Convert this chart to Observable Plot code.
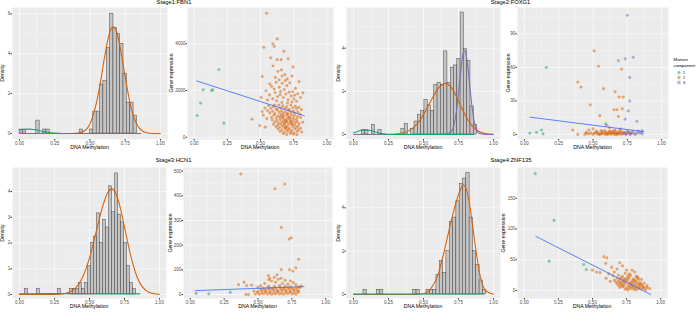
<!DOCTYPE html>
<html><head><meta charset="utf-8">
<script src="https://cdn.jsdelivr.net/npm/d3@7"></script>
<script src="https://cdn.jsdelivr.net/npm/@observablehq/plot@0.6"></script>
<style>
body{margin:0;background:#fff}
#root{position:relative;width:700px;height:313px;font-family:"Liberation Sans",Arial,sans-serif;overflow:hidden;background:#fff}
.t{position:absolute;white-space:nowrap;line-height:1;color:#000}
</style>
</head><body><div id="root"></div>
<script>
// ---------- data ----------
const stageTitles = ["Stage1:FBN1", "Stage2:FOXG1", "Stage3:HCN1", "Stage4:ZNF135"];
const xTitle = "DNA Methylation";
const densityTitle = "Density";
const exprTitle = "Gene expression";
const legendTitle = ["Mixture", "component"];
const legendLabels = ["1", "2", "3"];
const xTicks = [0, 0.25, 0.5, 0.75, 1];
const xMinor = [0.125, 0.375, 0.625, 0.875];

// histograms: density per bin, bins start at *Start with width *Width
const hist1Start = 0, hist1Width = 0.0238;
const hist1 = [0.2,0.2,0,0,0,0.65,0,0.2,0.2,0,0,0,0,0,0,0,0,0,0.2,0,0,0.2,1.1,1.1,2.45,2.65,4.3,6.0,5.3,5.0,4.5,3.0,1.55,1.55,0.9];
const hist2Start = 0.013, hist2Width = 0.0235;
const hist2 = [0,0,0.2,0.2,0,0.45,0,0.2,0,0,0,0,0,0,0.25,0.5,0,0.25,0.6,0.9,1.1,1.6,1.35,1.1,2.3,2.4,2.3,3.85,2.4,3.1,3.2,3.5,5.65,3.95,3.4,1.3,0.45];
const hist3Start = -0.005, hist3Width = 0.0215;
const hist3 = [0,0,0.22,0,0,0,0.22,0,0,0,0,0,0,0.22,0,0,0,0.22,0.22,0.22,0.45,0.22,0.45,1.1,2.0,2.25,3.15,2.0,2.9,2.6,4.2,3.2,4.7,3.1,2.8,2.0,1.1,0.45,0.22];
const hist4Start = 0, hist4Width = 0.0237;
const hist4 = [0,0,0,0.22,0,0,0,0.22,0.22,0,0,0,0,0,0,0,0,0,0.22,0.22,0,0,0.22,0.22,0.22,0.9,1.55,1.0,2.0,3.35,3.55,4.3,5.1,5.35,5.6,3.55,2.0,1.35,0.65,0.22];

// mixture component density curves [methylation, density]
const fbn1Comp1Curve = [[0,0.17],[0.025,0.2],[0.05,0.22],[0.075,0.22],[0.1,0.2],[0.125,0.17],[0.15,0.13],[0.175,0.09],[0.2,0.06],[0.25,0.02],[0.3,0.005],[0.4,0],[0.86,0]];
const fbn1Comp2Curve = [[0,0],[0.35,0],[0.4,0.01],[0.45,0.09],[0.5,0.49],[0.55,1.68],[0.575,2.6],[0.6,3.69],[0.625,4.65],[0.65,5.25],[0.665,5.35],[0.68,5.25],[0.7,4.8],[0.725,3.9],[0.75,2.84],[0.775,1.85],[0.8,1.08],[0.825,0.57],[0.85,0.27],[0.9,0.04],[0.95,0],[1,0]];
const foxg1Comp1Curve = [[0,0.08],[0.025,0.13],[0.05,0.18],[0.075,0.2],[0.1,0.2],[0.125,0.18],[0.15,0.13],[0.175,0.08],[0.2,0.04],[0.25,0.01],[0.3,0],[0.86,0]];
const foxg1Comp2Curve = [[0,0],[0.25,0.004],[0.3,0.018],[0.35,0.065],[0.4,0.19],[0.45,0.46],[0.5,0.92],[0.55,1.52],[0.6,2.09],[0.625,2.27],[0.658,2.37],[0.7,2.17],[0.75,1.55],[0.8,0.865],[0.85,0.375],[0.9,0.126],[0.95,0.033],[1,0.007]];
const foxg1Comp3Curve = [[0,0],[0.65,0],[0.7,0.14],[0.72,0.5],[0.74,1.32],[0.76,2.56],[0.78,3.64],[0.793,3.89],[0.81,3.48],[0.83,2.29],[0.85,1.11],[0.87,0.39],[0.9,0.047],[0.95,0],[1,0]];
const hcn1Comp1Curve = [[0,0.03],[0.2,0.035],[0.4,0.035],[0.6,0.03],[0.86,0.025]];
const hcn1Comp2Curve = [[0,0],[0.25,0.004],[0.3,0.02],[0.35,0.077],[0.4,0.25],[0.45,0.66],[0.5,1.42],[0.55,2.49],[0.6,3.53],[0.63,3.95],[0.66,4.1],[0.69,3.9],[0.72,3.36],[0.75,2.62],[0.78,1.85],[0.81,1.18],[0.84,0.68],[0.87,0.355],[0.9,0.17],[0.95,0.04],[1,0.007]];
const znf135Comp1Curve = [[0,0.02],[0.3,0.025],[0.6,0.025],[0.93,0.02]];
const znf135Comp2Curve = [[0,0],[0.45,0],[0.5,0.03],[0.55,0.25],[0.6,0.85],[0.65,2.05],[0.7,3.45],[0.75,4.6],[0.785,5.05],[0.82,4.5],[0.85,3.2],[0.88,1.8],[0.91,0.7],[0.95,0.15],[1,0.01]];

// scatter points [methylation, expression]
const fbn1Comp1 = [[0.023,930],[0.048,1460],[0.068,2030],[0.131,2000],[0.141,2030],[0.186,2900],[0.224,600]];
const fbn1Comp2 = [[0.546,5310],[0.626,4210],[0.593,4000],[0.603,3890],[0.525,3850],[0.676,3680],[0.576,3400],[0.625,3320],[0.655,3320],[0.708,3360],[0.513,2600],[0.631,2820],[0.658,2880],[0.684,2680],[0.612,2560],[0.702,2500],[0.737,2620],[0.662,2620],[0.745,3010],[0.594,3050],[0.435,770],[0.495,500],[0.82,1900],[0.79,2380],[0.64,2460],[0.57,2280],
[0.584,2180],[0.603,2060],[0.618,2350],[0.641,2140],[0.664,2310],[0.679,2040],[0.699,2210],[0.721,2330],[0.742,1950],[0.763,2090],[0.781,1860],[0.568,1810],[0.592,1650],[0.611,1910],[0.629,1740],[0.651,1960],[0.672,1700],[0.691,1850],[0.709,1600],[0.731,1760],[0.752,1640],[0.772,1540],[0.801,1700],[0.552,1590],[0.622,1560],[0.661,1490],[0.703,1460],[0.738,1510],[0.541,1990],[0.688,2420],[0.606,1380],[0.648,1820],[0.715,1930],[0.757,1800],
[0.561,1350],[0.598,1320],[0.637,1380],[0.668,1340],[0.697,1300],[0.728,1370],[0.761,1330],[0.789,1290],
[0.579,1240],[0.619,1210],[0.651,1260],[0.683,1230],[0.712,1190],[0.743,1250],[0.772,1220],[0.808,1180],
[0.553,1140],[0.592,1110],[0.628,1160],[0.659,1130],[0.689,1090],[0.718,1150],[0.749,1120],[0.781,1080],
[0.571,1040],[0.609,1010],[0.642,1060],[0.671,1030],[0.701,990],[0.729,1050],[0.758,1020],[0.797,980],
[0.521,950],[0.601,940],[0.632,910],[0.656,960],[0.681,930],[0.706,890],[0.733,950],[0.754,920],[0.779,880],
[0.583,850],[0.618,820],[0.646,860],[0.669,830],[0.694,790],[0.721,850],[0.746,820],[0.771,780],[0.803,840],
[0.589,740],[0.624,710],[0.649,760],[0.676,730],[0.699,690],[0.726,750],[0.751,720],[0.776,680],
[0.607,650],[0.636,610],[0.661,660],[0.686,630],[0.711,590],[0.734,650],[0.762,620],[0.791,580],[0.818,640],
[0.598,550],[0.629,520],[0.654,560],[0.679,530],[0.704,490],[0.731,550],[0.756,520],[0.783,480],
[0.617,450],[0.644,420],[0.668,460],[0.693,430],[0.719,390],[0.744,450],[0.769,420],[0.802,380],
[0.631,350],[0.662,320],[0.687,360],[0.709,330],[0.736,290],[0.759,350],[0.786,320],
[0.648,250],[0.679,220],[0.703,260],[0.728,230],[0.753,190],[0.778,250],[0.811,220],
[0.672,150],[0.698,120],[0.724,160],[0.749,130],[0.774,110],
[0.665,890],[0.692,700],[0.715,800],[0.68,600],[0.74,580],[0.705,1000],[0.69,420],[0.725,680],
[0.505,1700],[0.533,1250],[0.548,800],[0.512,1100],[0.536,430]];
const fbn1Fit = [[0.02,2410],[0.83,920]];

const foxg1Comp1 = [[0.04,1.2],[0.088,2],[0.124,4],[0.136,0.5],[0.16,60],[0.593,9.4]];
const foxg1Comp2 = [[0.509,74.7],[0.54,61],[0.709,58.5],[0.389,46.8],[0.413,42.4],[0.576,40.9],[0.661,38.2],[0.69,33.5],[0.72,33.5],[0.48,26.5],[0.653,22.1],[0.675,22.1],[0.713,23],[0.55,16.8],[0.685,16],[0.352,4],[0.389,0],[0.47,4],
[0.6,8],[0.5,5],[0.62,6],[0.56,3.5],[0.66,4],[0.7,5],[0.45,2],
[0.44,0],[0.455,1],[0.47,0.5],[0.485,1.5],[0.5,0],[0.51,1],[0.52,2],[0.53,0.5],[0.54,1.5],[0.55,0],[0.56,1],[0.565,2.5],[0.57,0.5],[0.58,1.5],[0.59,0],[0.595,2],[0.6,1],[0.61,0.5],[0.615,2.5],[0.62,1.5],[0.63,0],[0.635,1],[0.64,2],[0.65,0.5],[0.655,1.5],[0.66,0],[0.665,2.5],[0.67,1],[0.68,0.5],[0.685,2],[0.69,1.5],[0.7,0],[0.705,1],[0.71,2.5],[0.72,0.5],[0.73,1.5],[0.74,0],[0.75,1],[0.76,2],[0.77,0.5],[0.78,1.5],[0.525,3],[0.585,3.5],[0.645,3],[0.695,3.5],[0.605,0],[0.675,0],[0.545,0],[0.625,3]];
const foxg1Comp3 = [[0.75,106.5],[0.685,66],[0.734,67.6],[0.793,69],[0.767,51],[0.767,30],[0.757,21],[0.734,13.7],[0.82,11.8],[0.858,3.5],
[0.72,1],[0.74,0.5],[0.76,2],[0.78,1],[0.8,0.5],[0.82,1.5],[0.84,1],[0.86,0.5],[0.75,3],[0.79,2.5],[0.83,3],[0.77,0],[0.81,0],[0.85,2],[0.73,2]];
const foxg1Fit = [[0.04,15.5],[0.87,2.5]];

const hcn1Comp1 = [[0.043,5],[0.136,3],[0.295,9]];
const hcn1Comp2 = [[0.373,489],[0.698,448],[0.625,428],[0.673,272],[0.73,225],[0.745,230],[0.8,143],[0.78,108],[0.672,101],[0.733,101],[0.757,95],[0.397,50],[0.356,40],[0.416,36],[0.453,38],[0.41,0],[0.43,0],[0.576,77],[0.586,66],
[0.62,70],[0.65,62],[0.7,58],[0.74,55],[0.76,48],[0.6,55],[0.55,45],[0.63,50],[0.68,45],[0.72,42],[0.78,40],[0.8,30],[0.52,35],[0.5,30],[0.64,80],[0.67,66],[0.58,60],
[0.48,2],[0.51,1],[0.54,3],[0.57,2],[0.6,1],[0.63,3],[0.66,2],[0.69,1],[0.72,3],[0.75,2],[0.78,1],
[0.495,8],[0.525,7],[0.555,9],[0.585,8],[0.615,6],[0.645,9],[0.675,7],[0.705,8],[0.735,10],[0.765,7],[0.795,9],
[0.47,14],[0.5,13],[0.53,15],[0.56,14],[0.59,12],[0.62,15],[0.65,13],[0.68,16],[0.71,14],[0.74,12],[0.77,15],[0.8,13],
[0.52,20],[0.55,19],[0.58,22],[0.61,20],[0.64,18],[0.67,21],[0.7,19],[0.73,22],[0.76,20],[0.79,18],
[0.54,26],[0.57,28],[0.6,25],[0.63,27],[0.66,29],[0.69,26],[0.72,28],[0.75,25],[0.78,27],[0.81,29],
[0.58,34],[0.62,33],[0.66,36],[0.7,34],[0.74,32],[0.82,35]];
const hcn1Fit = [[0.04,16],[0.84,32]];

const znf135Comp1 = [[0.08,190],[0.218,114],[0.182,47.7],[0.436,42.3],[0.455,34]];
const znf135Comp2 = [[0.583,55],[0.605,53],[0.7,45],[0.597,44],[0.5,33],[0.53,30],[0.555,29],[0.75,33],[0.79,33],[0.62,27],[0.64,38],[0.66,30],[0.68,35],[0.72,40],[0.74,28],[0.77,27],[0.81,30],[0.83,22],[0.86,18],[0.88,12],[0.9,8],[0.87,5],[0.85,10],[0.92,3],[0.6,20],[0.63,15],
[0.74,2],[0.76,1],[0.78,3],[0.8,2],[0.82,1],[0.84,3],[0.86,2],[0.89,1],
[0.7,5],[0.72,6],[0.75,4],[0.77,5],[0.79,6],[0.81,4],[0.83,5],[0.85,6],[0.88,4],[0.9,5],
[0.69,8],[0.71,9],[0.73,7],[0.76,8],[0.78,9],[0.8,7],[0.82,8],[0.84,9],[0.87,7],
[0.68,11],[0.7,12],[0.72,10],[0.74,11],[0.77,12],[0.79,10],[0.81,11],[0.83,12],[0.86,10],
[0.67,14],[0.69,15],[0.71,13],[0.73,14],[0.75,15],[0.78,13],[0.8,14],[0.82,15],[0.85,13],
[0.66,17],[0.7,18],[0.72,16],[0.74,17],[0.76,18],[0.79,16],[0.81,17],[0.84,18],
[0.68,20],[0.71,21],[0.73,19],[0.75,20],[0.77,21],[0.8,19],[0.83,20],
[0.65,24],[0.69,25],[0.72,23],[0.76,24],[0.78,25],[0.82,23]];
const znf135Fit = [[0.085,88],[0.927,-6.5]];

// ---------- styles ----------
const C1 = "#1B9E77", C2 = "#D95F02", C3 = "#7570B3", FIT = "#3366FF";
const compColor = {"1": C1, "2": C2, "3": C3};
const FONT = "Liberation Sans, Arial, sans-serif";
const TICK_FS = 4.6, TITLE_FS = 5.2;
const root = document.getElementById("root");

function bins(dens, start, w) {
  return dens.map((d, i) => ({x1: start + i * w, x2: start + (i + 1) * w, d})).filter(b => b.d > 0);
}
function barMarks(b) {
  return [Plot.rectY(b, {x1: "x1", x2: "x2", y: "d", fill: "#C4C4C4", stroke: "#3a3a3a", strokeWidth: 0.45})];
}
function curveMark(c, color) {
  return Plot.line(c, {x: d => d[0], y: d => d[1], stroke: color, strokeWidth: 1.05, curve: "monotone-x"});
}
function dotMark(pts, color) {
  return Plot.dot(pts, {x: d => d[0], y: d => d[1], r: 1.35, fill: color, fillOpacity: 0.5, stroke: color, strokeOpacity: 0.35, strokeWidth: 0.4});
}
function fitMark(f) {
  return Plot.line(f, {x: d => d[0], y: d => d[1], stroke: FIT, strokeWidth: 0.8});
}

function panel(box, yDomain, yTicks, yMinor, marks) {
  const [l, t, r, b] = box;
  const mL = 16, mR = 2, mT = 1, mB = 8;
  const svg = Plot.plot({
    width: (r - l) + mL + mR, height: (b - t) + mT + mB,
    marginLeft: mL, marginRight: mR, marginTop: mT, marginBottom: mB,
    x: {domain: [-0.05, 1.05]},
    y: {domain: yDomain},
    style: {fontFamily: FONT, background: "transparent", overflow: "visible"},
    marks: [
      Plot.frame({fill: "#EBEBEB", stroke: "none"}),
      Plot.gridX(xMinor, {stroke: "white", strokeOpacity: 1, strokeWidth: 0.3}),
      Plot.gridY(yMinor, {stroke: "white", strokeOpacity: 1, strokeWidth: 0.3}),
      Plot.gridX(xTicks, {stroke: "white", strokeOpacity: 1, strokeWidth: 0.6}),
      Plot.gridY(yTicks, {stroke: "white", strokeOpacity: 1, strokeWidth: 0.6}),
      ...marks,
      Plot.axisX(xTicks, {tickFormat: d => d.toFixed(2), tickSize: 1.5, tickPadding: 0.6, fontSize: TICK_FS, label: null, stroke: "#333", fill: "#4D4D4D"}),
      Plot.axisY(yTicks, {tickFormat: d => String(d), tickSize: 1.5, tickPadding: 0.6, fontSize: TICK_FS, label: null, stroke: "#333", fill: "#4D4D4D"})
    ]
  });
  svg.style.position = "absolute";
  svg.style.left = (l - mL) + "px";
  svg.style.top = (t - mT) + "px";
  root.appendChild(svg);
  addText(xTitle, (l + r) / 2, b + 9.3, TITLE_FS);
}
function addText(txt, cx, cy, size, rotate) {
  const d = document.createElement("div");
  d.className = "t";
  d.textContent = txt;
  d.style.fontSize = size + "px";
  d.style.left = cx + "px";
  d.style.top = cy + "px";
  d.style.transform = "translate(-50%,-50%)" + (rotate ? " rotate(-90deg)" : "");
  root.appendChild(d);
}

// ---------- panels ----------
panel([12, 7, 167, 139], [-0.3, 6.32], [0, 2, 4, 6], [1, 3, 5], [
  ...barMarks(bins(hist1, hist1Start, hist1Width)),
  curveMark(fbn1Comp2Curve, C2), curveMark(fbn1Comp1Curve, C1)
]);
panel([187, 7, 333, 139], [-98, 5555], [0, 2000, 4000], [1000, 3000, 5000], [
  dotMark(fbn1Comp2, C2), dotMark(fbn1Comp1, C1), fitMark(fbn1Fit)
]);
panel([346, 7, 500, 139], [-0.232, 5.886], [0, 2, 4], [1, 3, 5], [
  ...barMarks(bins(hist2, hist2Start, hist2Width)),
  curveMark(foxg1Comp2Curve, C2), curveMark(foxg1Comp3Curve, C3), curveMark(foxg1Comp1Curve, C1)
]);
panel([517, 7, 668, 139], [-4.5, 113.5], [0, 30, 60, 90], [15, 45, 75, 105], [
  dotMark(foxg1Comp2, C2), dotMark(foxg1Comp3, C3), dotMark(foxg1Comp1, C1), fitMark(foxg1Fit)
]);
panel([12, 167, 166, 298], [-0.155, 4.93], [0, 1, 2, 3, 4], [0.5, 1.5, 2.5, 3.5, 4.5], [
  ...barMarks(bins(hist3, hist3Start, hist3Width)),
  curveMark(hcn1Comp2Curve, C2), curveMark(hcn1Comp1Curve, C1)
]);
panel([183, 167, 332, 298], [-16, 515], [0, 100, 200, 300, 400, 500], [50, 150, 250, 350, 450], [
  dotMark(hcn1Comp2, C2), dotMark(hcn1Comp1, C1), fitMark(hcn1Fit)
]);
panel([346, 167, 500, 298], [-0.185, 5.86], [0, 2, 4], [1, 3, 5], [
  ...barMarks(bins(hist4, hist4Start, hist4Width)),
  curveMark(znf135Comp2Curve, C2), curveMark(znf135Comp1Curve, C1)
]);
panel([517, 167, 667, 298], [-13, 200], [0, 50, 100, 150], [25, 75, 125, 175], [
  dotMark(znf135Comp2, C2), dotMark(znf135Comp1, C1), fitMark(znf135Fit)
]);

// y titles
addText(densityTitle, 3, 73, TITLE_FS, true);
addText(exprTitle, 171.5, 73, TITLE_FS, true);
addText(densityTitle, 338.5, 73, TITLE_FS, true);
addText(exprTitle, 508.5, 73, TITLE_FS, true);
addText(densityTitle, 3, 232.5, TITLE_FS, true);
addText(exprTitle, 170.5, 232.5, TITLE_FS, true);
addText(densityTitle, 338.5, 232.5, TITLE_FS, true);
addText(exprTitle, 504, 232.5, TITLE_FS, true);

// stage titles
addText(stageTitles[0], 174, 3.2, 5.8);
addText(stageTitles[1], 510.5, 3.2, 5.8);
addText(stageTitles[2], 173.6, 160.5, 5.8);
addText(stageTitles[3], 511, 160.5, 5.8);

// legend
const lt = document.createElement("div");
lt.className = "t";
lt.style.left = "673.5px"; lt.style.top = "57.4px"; lt.style.fontSize = "4.4px"; lt.style.lineHeight = "5.6px";
lt.innerHTML = legendTitle.join("<br>");
root.appendChild(lt);
const leg = Plot.plot({
  width: 26, height: 34, margin: 0, axis: null,
  style: {fontFamily: FONT, background: "transparent", overflow: "visible"},
  x: {type: "identity"},
  y: {type: "point", domain: legendLabels, range: [17, 27], padding: 0, axis: null},
  marks: [
    Plot.dot(legendLabels, {x: 6.5, y: d => d, symbol: "square", r: 2.6, fill: "#F2F2F2"}),
    Plot.dot(legendLabels, {x: 6.5, y: d => d, r: 1.35, fill: d => compColor[d], fillOpacity: 0.5, stroke: d => compColor[d], strokeOpacity: 0.35, strokeWidth: 0.4}),
    Plot.text(legendLabels, {x: 10.5, y: d => d, text: d => d, textAnchor: "start", fontSize: 3.9, fill: "#000"})
  ]
});
leg.style.position = "absolute"; leg.style.left = "672px"; leg.style.top = "55px";
root.appendChild(leg);
</script>
</body></html>
